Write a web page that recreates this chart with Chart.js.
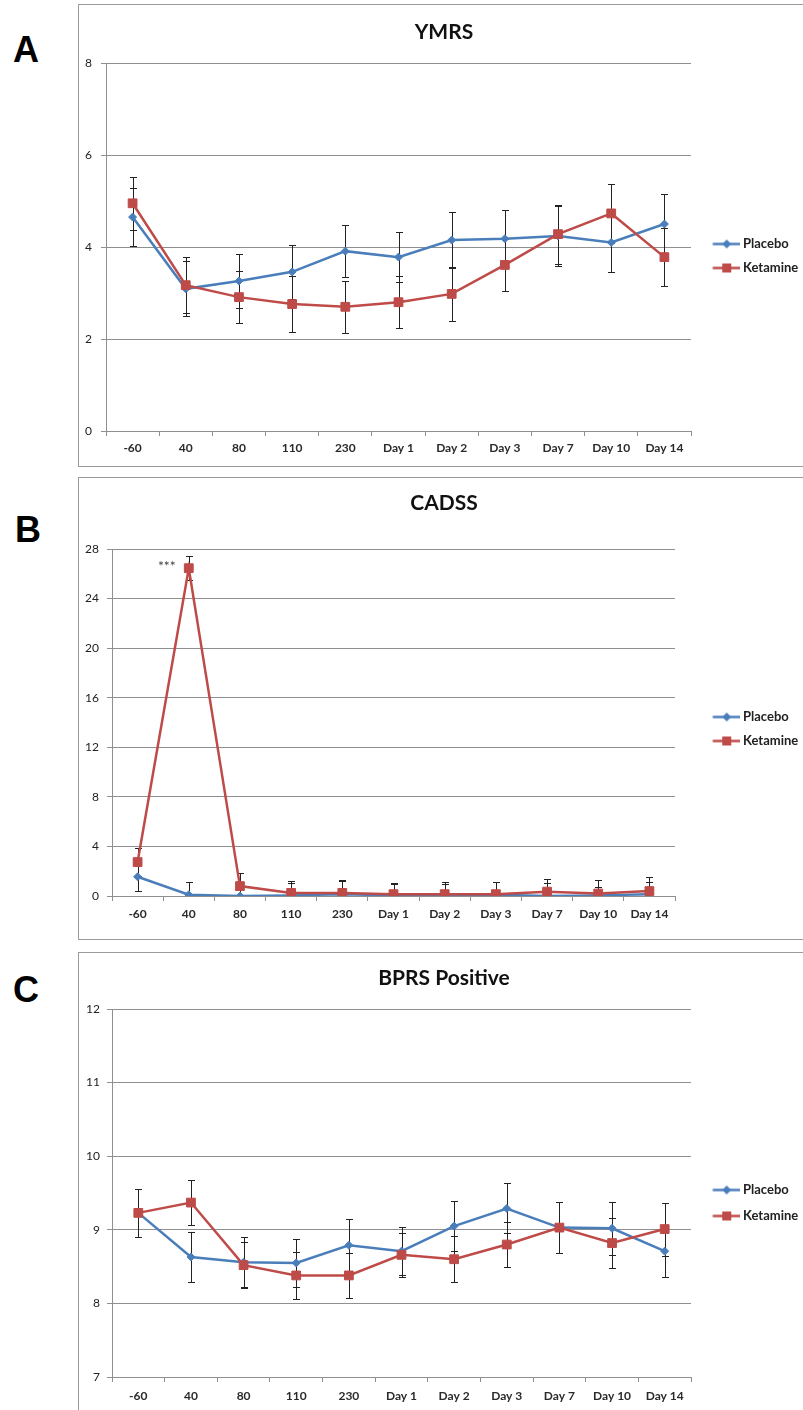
<!DOCTYPE html>
<html><head><meta charset="utf-8">
<script src="https://cdn.jsdelivr.net/npm/chart.js@4.4.1/dist/chart.umd.min.js"></script>
<style>
html,body{margin:0;padding:0;background:#fff;overflow:hidden;width:803px;height:1410px;}
.box{position:absolute;left:78px;width:780px;height:463px;border:1px solid #9a9a9a;box-sizing:border-box;}
.letter{position:absolute;font:bold 36px "Liberation Sans",Arial,sans-serif;line-height:36px;color:#000;}
canvas{position:absolute;left:60px;}
</style></head><body>
<div class="box" style="top:4px"></div>
<div class="box" style="top:477px"></div>
<div class="box" style="top:952px"></div>
<div class="letter" style="left:13px;top:32px">A</div>
<div class="letter" style="left:15px;top:512px">B</div>
<div class="letter" style="left:13px;top:972px">C</div>
<canvas id="chartA" width="768" height="460" style="top:5px"></canvas>
<canvas id="chartB" width="768" height="460" style="top:478px"></canvas>
<canvas id="chartC" width="768" height="460" style="top:953px"></canvas>
<script>
// ---- data ----
const categories = ['-60','40','80','110','230','Day 1','Day 2','Day 3','Day 7','Day 10','Day 14'];
const seriesNames = ['Placebo','Ketamine'];

const ymrsPlacebo     = [4.65, 3.09, 3.26, 3.46, 3.91, 3.78, 4.15, 4.18, 4.24, 4.10, 4.50];
const ymrsPlaceboErr  = [0.63, 0.60, 0.59, 0.58, 0.57, 0.54, 0.61, 0.62, 0.65, 0.64, 0.65];
const ymrsKetamine    = [4.95, 3.17, 2.91, 2.76, 2.70, 2.80, 2.98, 3.61, 4.28, 4.73, 3.78];
const ymrsKetamineErr = [0.58, 0.61, 0.57, 0.60, 0.57, 0.56, 0.59, 0.57, 0.64, 0.64, 0.63];

const cadssPlacebo     = [1.55, 0.10, 0.00, 0.05, 0.15, 0.05, 0.05, 0.10, 0.00, 0.05, 0.15];
const cadssPlaceboErr  = [1.15, 1.05, 0.00, 1.00, 1.05, 0.95, 0.95, 1.00, 1.05, 0.70, 0.98];
const cadssKetamine    = [2.74, 26.45, 0.80, 0.25, 0.25, 0.15, 0.15, 0.15, 0.35, 0.20, 0.40];
const cadssKetamineErr = [1.10, 0.95, 1.05, 0.95, 1.05, 0.90, 0.98, 0.98, 1.02, 1.10, 1.15];

const bprsPlacebo     = [9.23, 8.63, 8.56, 8.55, 8.79, 8.71, 9.05, 9.29, 9.03, 9.02, 8.71];
const bprsPlaceboErr  = [0.33, 0.34, 0.34, 0.33, 0.36, 0.33, 0.34, 0.34, 0.35, 0.36, 0.35];
const bprsKetamine    = [9.23, 9.37, 8.52, 8.38, 8.38, 8.66, 8.60, 8.80, 9.03, 8.82, 9.01];
const bprsKetamineErr = [0.33, 0.31, 0.31, 0.32, 0.31, 0.30, 0.31, 0.30, 0.35, 0.34, 0.36];

const ymrsTicks  = {min: 0, max: 8,  step: 2};
const cadssTicks = {min: 0, max: 28, step: 4};
const bprsTicks  = {min: 7, max: 12, step: 1};

// ---- styling ----
const FONT = 'Lato, "Open Sans", "DejaVu Sans", sans-serif';
const PLACEBO_COLOR = '#4A7EBB';
const KETAMINE_COLOR = '#BE4B48';
const GRID = '#8f8f8f';
const W = 768, H = 460;
const LEGEND_SIZE = 13;

function measure(text, font) {
  const g = document.createElement('canvas').getContext('2d');
  g.font = font;
  return g.measureText(text).width;
}

function legendIcon(w, color, shape) {
  const c = document.createElement('canvas');
  c.width = w; c.height = 13;
  const g = c.getContext('2d');
  g.strokeStyle = color; g.lineWidth = 2.5;
  g.beginPath(); g.moveTo(w - 28, 6.5); g.lineTo(w, 6.5); g.stroke();
  const cx = w - 14;
  g.fillStyle = color;
  if (shape === 'rect') {
    g.fillRect(cx - 4.5, 2, 9, 9);
  } else {
    g.beginPath(); g.moveTo(cx, 2); g.lineTo(cx + 4.5, 6.5); g.lineTo(cx, 11); g.lineTo(cx - 4.5, 6.5); g.closePath(); g.fill();
  }
  return c;
}

const errorBarPlugin = {
  id: 'errorBars',
  beforeDatasetsDraw(chart, args, opts) {
    const {ctx, chartArea, scales: {x, y}} = chart;
    ctx.save();
    ctx.beginPath();
    ctx.rect(chartArea.left, chartArea.top - 2, chartArea.right - chartArea.left, chartArea.bottom - chartArea.top + 2);
    ctx.clip();
    ctx.strokeStyle = '#222';
    ctx.lineWidth = 1;
    chart.data.datasets.forEach((ds, di) => {
      const errs = opts.errors[di];
      ds.data.forEach((v, i) => {
        const e = errs[i];
        if (!e) return;
        const px = Math.round(x.getPixelForValue(i)) + 0.5;
        const top = Math.round(y.getPixelForValue(v + e)) + 0.5;
        const bot = Math.round(y.getPixelForValue(v - e)) + 0.5;
        ctx.beginPath();
        ctx.moveTo(px, top); ctx.lineTo(px, bot);
        ctx.moveTo(px - 3.5, top); ctx.lineTo(px + 3.5, top);
        ctx.moveTo(px - 3.5, bot); ctx.lineTo(px + 3.5, bot);
        ctx.stroke();
      });
    });
    ctx.restore();
  },
  afterDatasetsDraw(chart, args, opts) {
    if (!opts.stars) return;
    const {ctx, scales: {x, y}} = chart;
    const ds = chart.data.datasets[opts.stars.dataset];
    const i = opts.stars.index;
    const px = x.getPixelForValue(i);
    const py = y.getPixelForValue(ds.data[i]);
    ctx.save();
    ctx.fillStyle = '#444';
    ctx.font = '14px ' + FONT;
    ctx.textAlign = 'right';
    ctx.textBaseline = 'middle';
    ctx.fillText(opts.stars.text, px - 13, py - 2);
    ctx.restore();
  }
};

function makeChart(cfg) {
  const legendFontStr = 'bold ' + LEGEND_SIZE + 'px ' + FONT;
  const textW = Math.max(...seriesNames.map(n => measure(n, legendFontStr)));
  const legendWidth = cfg.legendPad + cfg.boxW + LEGEND_SIZE / 2 + textW + 10;
  const padR = Math.max(0, W - cfg.chartRight - legendWidth);
  const icons = [legendIcon(cfg.boxW + 8, PLACEBO_COLOR, 'diamond'), legendIcon(cfg.boxW + 8, KETAMINE_COLOR, 'rect')];

  return new Chart(document.getElementById(cfg.canvas), {
    type: 'line',
    data: {
      labels: categories,
      datasets: [
        {label: seriesNames[0], data: cfg.placebo, borderColor: PLACEBO_COLOR, backgroundColor: PLACEBO_COLOR,
         borderWidth: 2.5, pointStyle: 'rectRot', pointRadius: 4, pointBorderWidth: 1,
         pointBackgroundColor: PLACEBO_COLOR, pointBorderColor: PLACEBO_COLOR, tension: 0, order: 1},
        {label: seriesNames[1], data: cfg.ketamine, borderColor: KETAMINE_COLOR, backgroundColor: KETAMINE_COLOR,
         borderWidth: 2.5, pointStyle: 'rect', pointRadius: 6.2, pointBorderWidth: 1,
         pointBackgroundColor: KETAMINE_COLOR, pointBorderColor: KETAMINE_COLOR, tension: 0, order: 0}
      ]
    },
    options: {
      responsive: false,
      devicePixelRatio: 1,
      animation: false,
      events: [],
      layout: {autoPadding: false, padding: {left: padR, right: padR, top: 0, bottom: 0}},
      plugins: {
        title: {display: true, text: cfg.title, color: '#111',
                font: {family: FONT, size: 21, weight: 'bold', lineHeight: 1.2},
                padding: cfg.titlePad},
        legend: {
          position: 'right', align: 'center', fullSize: false,
          title: {display: true, text: '', font: {size: 1, lineHeight: 1}, padding: {top: cfg.legendShift - 1, bottom: 0}},
          labels: {
            usePointStyle: true, pointStyleWidth: cfg.boxW, padding: cfg.legendPad,
            color: '#222', font: {family: FONT, size: LEGEND_SIZE, weight: 'bold'},
            generateLabels: (chart) => chart.data.datasets.map((ds, i) => ({
              text: ds.label, fillStyle: ds.borderColor, strokeStyle: ds.borderColor, lineWidth: 0,
              hidden: false, datasetIndex: i, pointStyle: icons[i], fontColor: '#222'
            }))
          }
        },
        tooltip: {enabled: false},
        errorBars: {errors: cfg.errors, stars: cfg.stars || null}
      },
      scales: {
        x: {
          type: 'category',
          offset: true,
          grid: {offset: true, drawOnChartArea: false, drawTicks: true, tickLength: 5, color: GRID},
          border: {display: true, color: GRID, width: 1},
          ticks: {color: '#2a2a2a', font: {family: FONT, size: 12, weight: 'bold'}, padding: cfg.xPad, autoSkip: false, maxRotation: 0},
          afterFit: (s) => { s.height = H - cfg.chartBottom; }
        },
        y: {
          min: cfg.ticks.min, max: cfg.ticks.max,
          grid: {color: GRID, lineWidth: 1, tickLength: 5, drawTicks: true},
          border: {display: true, color: GRID, width: 1},
          ticks: {stepSize: cfg.ticks.step, color: '#222', font: {family: FONT, size: 12}, padding: cfg.yPad},
          afterFit: (s) => { s.width = cfg.chartLeft - padR; }
        }
      }
    },
    plugins: [errorBarPlugin]
  });
}

makeChart({canvas: 'chartA', title: 'YMRS', titlePad: {top: 14.4, bottom: 18.4},
  chartLeft: 46, chartRight: 631, chartBottom: 426, ticks: ymrsTicks, yPad: 9, xPad: 5,
  legendPad: 11, boxW: 34.5, legendShift: 18,
  placebo: ymrsPlacebo, ketamine: ymrsKetamine, errors: [ymrsPlaceboErr, ymrsKetamineErr]});

makeChart({canvas: 'chartB', title: 'CADSS', titlePad: {top: 12.4, bottom: 33.4},
  chartLeft: 52, chartRight: 615, chartBottom: 418, ticks: cadssTicks, yPad: 8, xPad: 6,
  legendPad: 11, boxW: 50.5, legendShift: 13,
  placebo: cadssPlacebo, ketamine: cadssKetamine, errors: [cadssPlaceboErr, cadssKetamineErr],
  stars: {dataset: 1, index: 1, text: '***'}});

makeChart({canvas: 'chartC', title: 'BPRS Positive', titlePad: {top: 12.4, bottom: 18.4},
  chartLeft: 52, chartRight: 631, chartBottom: 424, ticks: bprsTicks, yPad: 7, xPad: 7,
  legendPad: 13, boxW: 32.5, legendShift: 20,
  placebo: bprsPlacebo, ketamine: bprsKetamine, errors: [bprsPlaceboErr, bprsKetamineErr]});
</script>
</body></html>
